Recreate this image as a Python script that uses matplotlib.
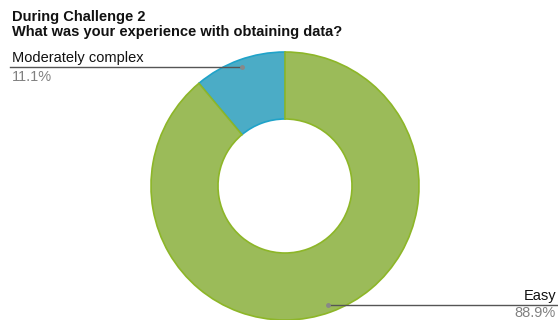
import numpy as np
import matplotlib
matplotlib.use("Agg")
import matplotlib.pyplot as plt

plt.rcParams['font.family'] = ['Liberation Sans', 'DejaVu Sans']

title_lines = ["During Challenge 2", "What was your experience with obtaining data?"]
categories = ["Moderately complex", "Easy"]
shares = [11.1, 88.9]
face_colors = ["#4bacc6", "#9bbb59"]
edge_colors = ["#1fa3c9", "#8db628"]

W, H = 558, 320
fig = plt.figure(figsize=(W / 100, H / 100), dpi=100)
ax = fig.add_axes([0, 0, 1, 1])

cx, cy, r = 285, H - 186, 134
wedges, _ = ax.pie(shares, colors=face_colors, startangle=90, counterclock=True,
                   center=(cx, cy), radius=r, frame=True,
                   wedgeprops=dict(width=r * 0.5, linewidth=1.2))
for w, ec in zip(wedges, edge_colors):
    w.set_edgecolor(ec)
ax.set_xlim(0, W)
ax.set_ylim(0, H)
ax.set_aspect('equal')
ax.axis('off')

# title
ax.text(12, H - 21, title_lines[0], fontsize=10.5, fontweight='bold', color='#111111')
ax.text(12, H - 36, title_lines[1], fontsize=10.5, fontweight='bold', color='#111111')

# leader lines and labels
for w, cat, val in zip(wedges, categories, shares):
    mid = np.deg2rad((w.theta1 + w.theta2) / 2)
    px = cx + 0.945 * r * np.cos(mid)
    py = cy + 0.945 * r * np.sin(mid)
    if px < cx:
        x0, x1, tx, ha, dy = 10, px, 12, 'left', 14
    else:
        x0, x1, tx, ha, dy = px, W, 556, 'right', 12
    ax.plot([x0, x1], [py, py], color='#555555', lw=1)
    ax.plot(px, py, 'o', ms=2.5, color='#888888')
    ax.text(tx, py + 5, cat, fontsize=10.5, color='#111111', va='baseline', ha=ha)
    ax.text(tx, py - dy, f"{val}%", fontsize=10.5, color='#808080', va='baseline', ha=ha)

fig.savefig("out.png", dpi=100)
